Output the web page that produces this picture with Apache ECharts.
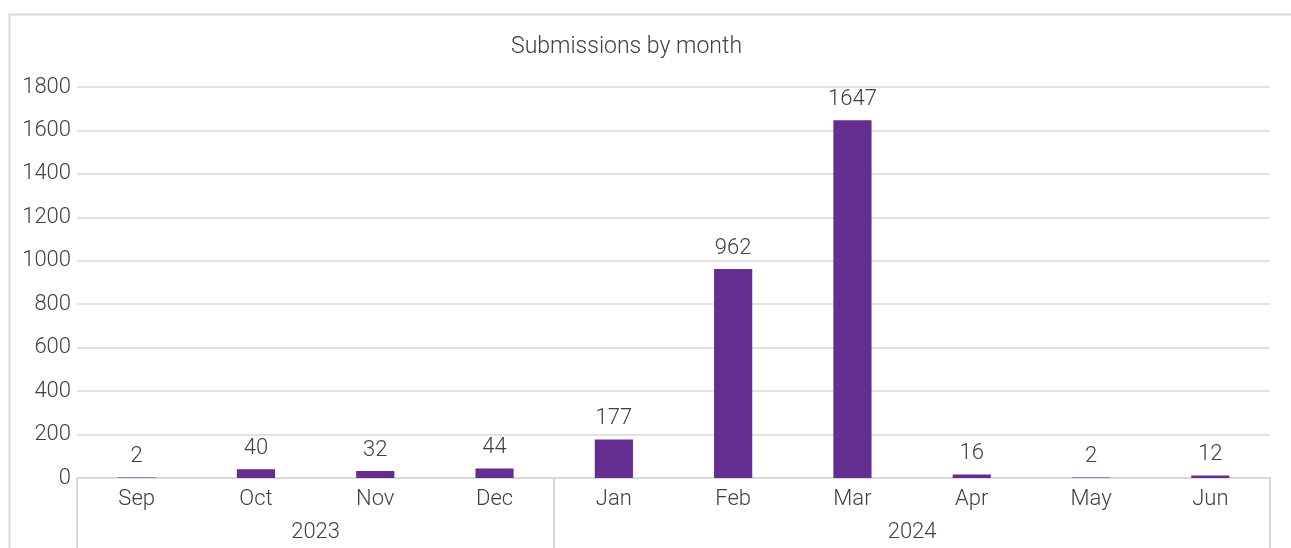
<!DOCTYPE html>
<html>
<head>
<meta charset="utf-8">
<script src="https://cdn.jsdelivr.net/npm/echarts@6/dist/echarts.min.js"></script>
<style>
html,body{margin:0;padding:0;background:#fff;}
#chart{width:1291px;height:548px;}
</style>
</head>
<body>
<div id="chart"></div>
<script>
const months = ['Sep','Oct','Nov','Dec','Jan','Feb','Mar','Apr','May','Jun'];
const submissions = [2, 40, 32, 44, 177, 962, 1647, 16, 2, 12];
const years = ['2023', '2024'];
const yearSpans = [4, 6]; // number of months in each year group
const yTicks = { min: 0, max: 1800, interval: 200 };

// positions of year boundaries and centres on a 0..N month scale
const boundaries = [0];
const centres = [];
yearSpans.forEach((n, i) => {
  const start = boundaries[boundaries.length - 1];
  centres.push(start + n / 2);
  boundaries.push(start + n);
});

const FONT = 'Roboto';
const TXT = '#404040';
const GRID = '#d9d9d9';
const FS = 22;

const chart = echarts.init(document.getElementById('chart'), null, {renderer: 'canvas'});
chart.setOption({
  animation: false,
  backgroundColor: '#fff',
  textStyle: { fontFamily: FONT },
  title: {
    text: 'Submissions by month',
    left: 506, top: 31,
    textStyle: { fontFamily: FONT, fontSize: 23, fontWeight: 300, color: TXT }
  },
  graphic: [{
    type: 'rect', left: 7, top: 12, z: -1,
    shape: { width: 1300, height: 600 },
    style: { fill: 'none', stroke: GRID, lineWidth: 2 }
  }],
  grid: { left: 77, right: 21, top: 87, bottom: 70, containLabel: false },
  xAxis: [{
    type: 'category',
    data: months,
    position: 'bottom',
    axisLine: { show: true, lineStyle: { color: GRID, width: 2 } },
    axisTick: { show: false },
    axisLabel: { fontFamily: FONT, fontSize: FS, fontWeight: 300, color: TXT, margin: 10 },
    splitLine: { show: false }
  }, {
    type: 'value',
    min: 0, max: months.length,
    position: 'bottom',
    axisLine: { show: false },
    splitLine: { show: false },
    axisTick: {
      show: true, customValues: boundaries, length: 75,
      lineStyle: { color: GRID, width: 2 }
    },
    axisLabel: {
      show: true, customValues: centres, margin: 43,
      fontFamily: FONT, fontSize: FS, fontWeight: 300, color: TXT,
      formatter: v => years[centres.indexOf(v)] || ''
    }
  }],
  yAxis: {
    type: 'value',
    min: yTicks.min, max: yTicks.max, interval: yTicks.interval,
    axisLine: { show: false },
    axisTick: { show: false },
    axisLabel: { fontFamily: FONT, fontSize: FS, fontWeight: 300, color: TXT, margin: 6,
      formatter: v => String(v) },
    splitLine: { show: true, lineStyle: { color: GRID, width: 1.5 } }
  },
  series: [{
    type: 'bar',
    xAxisIndex: 0,
    data: submissions,
    barWidth: '32%',
    itemStyle: { color: '#662d91' },
    label: {
      show: true, position: 'top', distance: 10,
      fontFamily: FONT, fontSize: FS, fontWeight: 300, color: TXT
    }
  }]
});
</script>
</body>
</html>
